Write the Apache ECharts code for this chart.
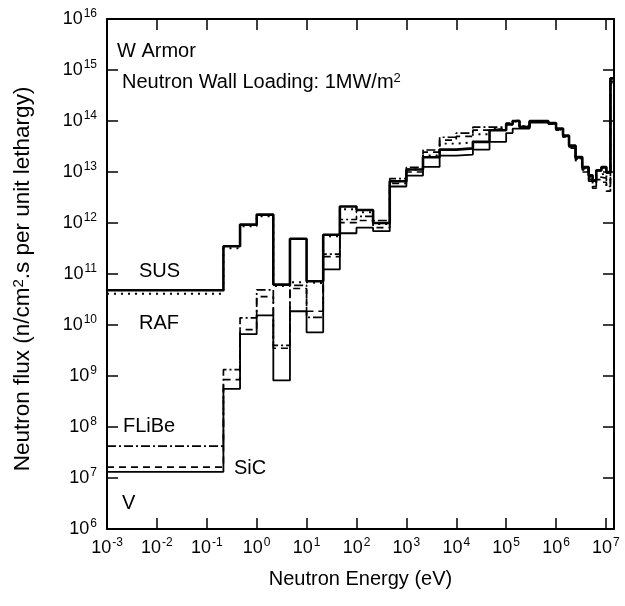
<!DOCTYPE html>
<html>
<head>
<meta charset="utf-8">
<script src="https://cdn.jsdelivr.net/npm/echarts@6/dist/echarts.min.js"></script>
<style>
html,body{margin:0;padding:0;background:#fff;}
#chart{width:625px;height:606px;}
</style>
</head>
<body>
<div id="chart"></div>
<script>
// Group boundaries (eV): lower edge of every energy group, last entry = upper edge of last group
const energyEdges = [1e-3, 0.2154, 0.4642, 1, 2.154, 4.642, 10, 21.54, 46.42, 100, 215.4, 464.2, 1000, 2154, 4642, 1e4, 2.154e4, 4.642e4,
  1e5, 1.35e5, 1.85e5, 2.95e5, 7e5, 1e6, 1.38e6, 1.82e6, 2.46e6, 3.35e6, 4.5e6, 5.4e6, 6.4e6, 8.1e6, 1.02e7, 1.23e7, 1.45e7];

// Neutron flux per group (n/cm2.s per unit lethargy)
const fluxSUS = [4.8e10, 3.5e11, 9.3e11, 1.46e12, 6.2e10, 4.9e11, 7.2e10, 5.9e11, 2.1e12, 1.8e12, 1.0e12, 6.6e12, 1.12e13, 1.95e13, 2.75e13, 2.9e13, 3.9e13, 6.6e13,
  8.6e13, 1.0e14, 7.6e13, 1.0e14, 9.1e13, 7.1e13, 5.2e13, 3.3e13, 1.97e13, 1.25e13, 8.6e12, 6.9e12, 1.08e13, 1.25e13, 1.0e13, 6.9e14];
const fluxRAF = [4.1e10, 3.2e11, 8.6e11, 1.35e12, 5.8e10, 6.9e10, 6.6e10, 5.5e11, 1.86e12, 1.62e12, 9.5e11, 6.6e12, 1.12e13, 2.1e13, 3.6e13, 3.8e13, 5.5e13, 7.1e13,
  8.5e13, 9.8e13, 7.8e13, 9.8e13, 8.9e13, 6.9e13, 5.0e13, 3.2e13, 1.86e13, 1.17e13, 7.9e12, 6.0e12, 8.9e12, 9.5e12, 7.1e12, 6.3e14];
const fluxFLiBe = [4.2e7, 1.33e9, 1.38e10, 4.9e10, 4.0e9, 6.0e10, 1.41e10, 2.45e11, 1.17e12, 1.35e12, 1.12e12, 7.4e12, 1.23e13, 2.7e13, 4.8e13, 5.8e13, 7.6e13, 7.6e13,
  9.1e13, 1.02e14, 7.9e13, 1.0e14, 8.9e13, 6.8e13, 4.9e13, 3.1e13, 1.78e13, 1.1e13, 7.2e12, 5.2e12, 7.9e12, 7.6e12, 5.2e12, 6.0e14];
const fluxSiC = [1.64e7, 8.5e8, 8.1e9, 3.6e10, 3.5e9, 5.2e10, 1.86e10, 2.2e11, 1.02e12, 1.12e12, 8.1e11, 6.0e12, 1.0e13, 2.45e13, 4.2e13, 5.0e13, 6.6e13, 7.2e13,
  8.9e13, 1.0e14, 7.8e13, 9.8e13, 8.7e13, 6.6e13, 4.8e13, 2.95e13, 1.66e13, 1.0e13, 6.6e12, 4.8e12, 7.1e12, 6.3e12, 4.2e12, 5.6e14];
const fluxV = [1.32e7, 5.6e8, 6.6e9, 1.55e10, 8.2e8, 1.86e10, 7.2e9, 1.23e11, 6.3e11, 8.1e11, 6.9e11, 5.2e12, 8.5e12, 1.26e13, 2.1e13, 2.2e13, 2.75e13, 3.9e13,
  5.8e13, 7.1e13, 7.1e13, 9.3e13, 8.9e13, 6.9e13, 5.1e13, 3.2e13, 1.9e13, 1.2e13, 8.3e12, 6.6e12, 1.05e13, 1.2e13, 9.5e12, 6.8e14];

// Tick exponents shown as 10^n
const xTickExponents = [-3, -2, -1, 0, 1, 2, 3, 4, 5, 6, 7];
const yTickExponents = [6, 7, 8, 9, 10, 11, 12, 13, 14, 15, 16];

const FONT = "'Liberation Sans', Arial, Helvetica, sans-serif";

function stepData(vals) {
  return energyEdges.map((e, i) => [e, vals[Math.min(i, vals.length - 1)]]);
}

function powLabel(allowed) {
  return function (v) {
    const l = Math.log10(v);
    const e = Math.round(l);
    if (Math.abs(l - e) > 1e-6 || allowed.indexOf(e) < 0) return '';
    return '{b|10}{s|' + e + '}';
  };
}

const labelRich = {
  b: { fontSize: 18, lineHeight: 22, fontFamily: FONT, color: '#000' },
  s: { fontSize: 12, lineHeight: 12, verticalAlign: 'top', fontFamily: FONT, color: '#000', padding: [0, 0, 0, 1] }
};

const axisLineStyle = { show: true, lineStyle: { color: '#000', width: 2 } };
const tickStyle = { show: true, inside: true, length: 11, lineStyle: { color: '#000', width: 1.5 } };

const chart = echarts.init(document.getElementById('chart'), null, { renderer: 'canvas' });

const seriesDefs = [
  { name: 'V', data: fluxV, lineStyle: { color: '#000', width: 1.8, type: 'solid' } },
  { name: 'SiC', data: fluxSiC, lineStyle: { color: '#000', width: 1.7, type: [7, 5] } },
  { name: 'FLiBe', data: fluxFLiBe, lineStyle: { color: '#000', width: 1.7, type: [9, 3, 2, 3] } },
  { name: 'RAF', data: fluxRAF, lineStyle: { color: '#000', width: 1.9, type: [2, 5] } },
  { name: 'SUS', data: fluxSUS, lineStyle: { color: '#000', width: 2.6, type: 'solid' } }
];

const option = {
  animation: false,
  backgroundColor: '#fff',
  grid: { left: 107, right: 11, top: 19, bottom: 77, containLabel: false },
  xAxis: [
    {
      type: 'log', logBase: 10, min: 1e-3, max: 1.45e7, interval: 1, position: 'bottom',
      axisLine: axisLineStyle, axisTick: tickStyle, splitLine: { show: false }, minorTick: { show: false },
      axisLabel: { show: true, margin: 8, formatter: powLabel(xTickExponents), rich: labelRich, fontSize: 18, fontFamily: FONT, color: '#000', showMinLabel: true, showMaxLabel: true, hideOverlap: false },
      name: 'Neutron Energy (eV)', nameLocation: 'middle', nameGap: 40,
      nameTextStyle: { fontSize: 20, fontFamily: FONT, color: '#000' }
    },
    {
      type: 'log', logBase: 10, min: 1e-3, max: 1.45e7, interval: 1, position: 'top',
      axisLine: axisLineStyle, axisTick: tickStyle, splitLine: { show: false },
      axisLabel: { show: false }
    }
  ],
  yAxis: [
    {
      type: 'log', logBase: 10, min: 1e6, max: 1e16, interval: 1, position: 'left',
      axisLine: axisLineStyle, axisTick: tickStyle, splitLine: { show: false }, minorTick: { show: false },
      axisLabel: { show: true, margin: 10, formatter: powLabel(yTickExponents), rich: labelRich, fontSize: 18, fontFamily: FONT, color: '#000', showMinLabel: true, showMaxLabel: true, hideOverlap: false },
      name: 'Neutron flux (n/cm{s|2}.s per unit lethargy)', nameLocation: 'middle', nameGap: 73, nameRotate: 90,
      nameTextStyle: {
        fontSize: 22.5, fontFamily: FONT, color: '#000', padding: [0, 10, 0, 0],
        rich: { s: { fontSize: 15, lineHeight: 15, verticalAlign: 'top', fontFamily: FONT, color: '#000' } }
      }
    },
    {
      type: 'log', logBase: 10, min: 1e6, max: 1e16, interval: 1, position: 'right',
      axisLine: axisLineStyle, axisTick: tickStyle, splitLine: { show: false },
      axisLabel: { show: false }
    }
  ],
  series: seriesDefs.map(s => ({
    type: 'line', name: s.name, step: 'end', showSymbol: false, symbol: 'none',
    xAxisIndex: 0, yAxisIndex: 0, clip: true,
    data: stepData(s.data), lineStyle: s.lineStyle, emphasis: { disabled: true }
  })),
  graphic: [
    { type: 'text', x: 117, y: 51, style: { text: 'W Armor', fontSize: 20, fontFamily: FONT, fill: '#000', textAlign: 'left', textVerticalAlign: 'middle' } },
    { type: 'text', x: 122, y: 82, style: { text: 'Neutron Wall Loading: 1MW/m{s|2}', fontSize: 20, fontFamily: FONT, fill: '#000', textAlign: 'left', textVerticalAlign: 'middle',
      rich: { s: { fontSize: 13, lineHeight: 13, verticalAlign: 'top', fontFamily: FONT, fill: '#000' } } } },
    { type: 'text', x: 139, y: 271, style: { text: 'SUS', fontSize: 20, fontFamily: FONT, fill: '#000', textAlign: 'left', textVerticalAlign: 'middle' } },
    { type: 'text', x: 139, y: 323, style: { text: 'RAF', fontSize: 20, fontFamily: FONT, fill: '#000', textAlign: 'left', textVerticalAlign: 'middle' } },
    { type: 'text', x: 123, y: 426, style: { text: 'FLiBe', fontSize: 20, fontFamily: FONT, fill: '#000', textAlign: 'left', textVerticalAlign: 'middle' } },
    { type: 'text', x: 234, y: 468, style: { text: 'SiC', fontSize: 20, fontFamily: FONT, fill: '#000', textAlign: 'left', textVerticalAlign: 'middle' } },
    { type: 'text', x: 122, y: 503, style: { text: 'V', fontSize: 20, fontFamily: FONT, fill: '#000', textAlign: 'left', textVerticalAlign: 'middle' } }
  ]
};

chart.setOption(option);
</script>
</body>
</html>
